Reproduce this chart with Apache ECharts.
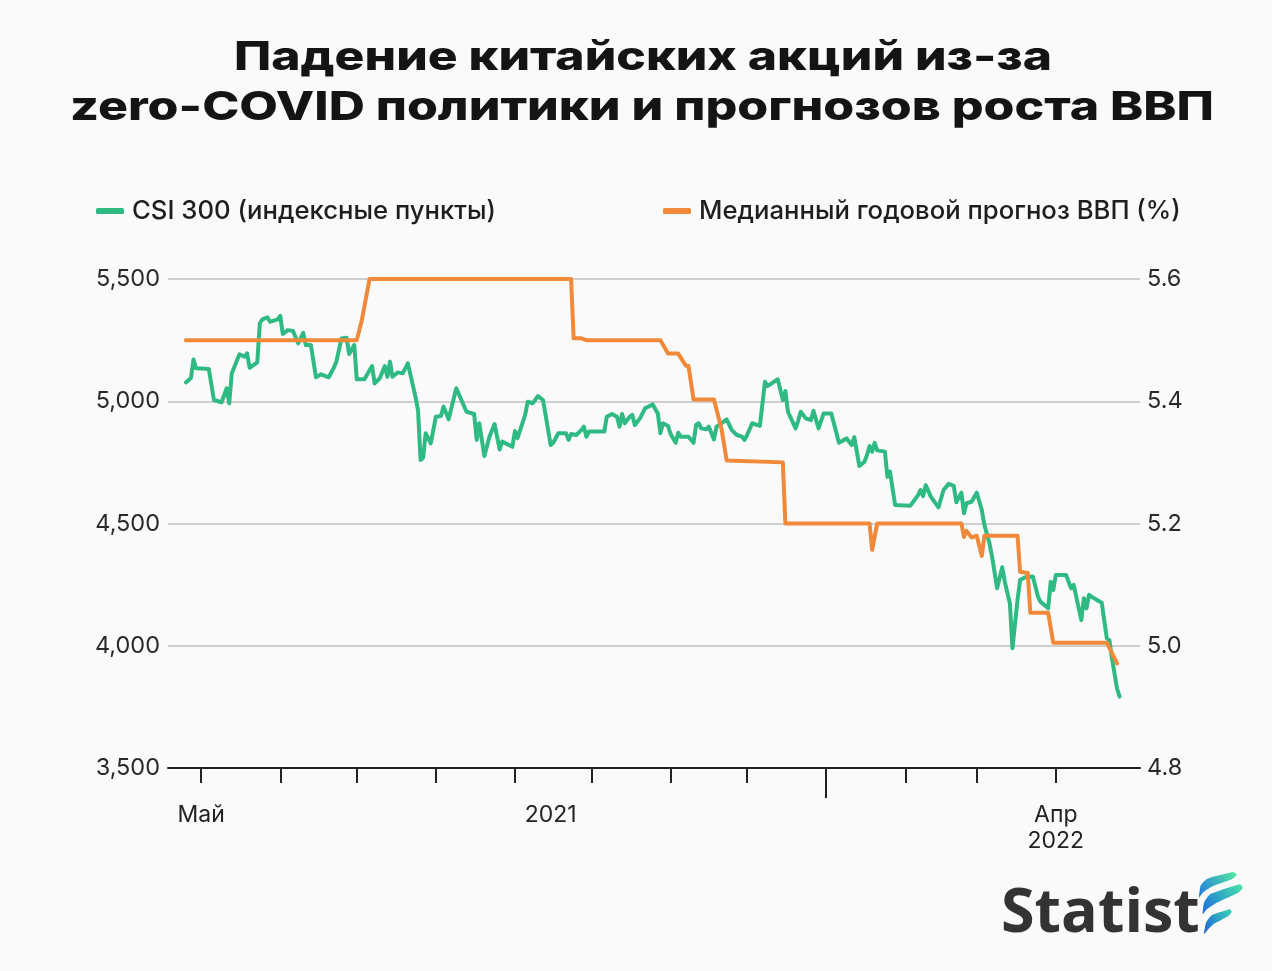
<!DOCTYPE html>
<html><head><meta charset="utf-8">
<script src="https://cdn.jsdelivr.net/npm/echarts@6/dist/echarts.min.js"></script>
<style>html,body{margin:0;padding:0;background:#fafafa}#c{width:1272px;height:971px}</style>
</head><body><div id="c"></div>
<script>
const titleText = 'Падение китайских акций из-за\nzero-COVID политики и прогнозов роста ВВП';
const seriesNames = ['CSI 300 (индексные пункты)', 'Медианный годовой прогноз ВВП (%)'];

const csiDates = ['2021-04-25','2021-04-27','2021-04-28','2021-04-29','2021-05-04','2021-05-06','2021-05-09','2021-05-11','2021-05-12','2021-05-13',
'2021-05-16','2021-05-18','2021-05-19','2021-05-20','2021-05-23','2021-05-24','2021-05-25','2021-05-27','2021-05-28','2021-05-31',
'2021-06-01','2021-06-02','2021-06-04','2021-06-06','2021-06-08','2021-06-09','2021-06-10','2021-06-11','2021-06-13','2021-06-15',
'2021-06-17','2021-06-20','2021-06-22','2021-06-23','2021-06-25','2021-06-27','2021-06-28','2021-06-30','2021-07-01','2021-07-04',
'2021-07-07','2021-07-08','2021-07-10','2021-07-12','2021-07-13','2021-07-14','2021-07-15','2021-07-17','2021-07-19','2021-07-21',
'2021-07-24','2021-07-25','2021-07-26','2021-07-27','2021-07-28','2021-07-30','2021-08-01','2021-08-03','2021-08-04','2021-08-06',
'2021-08-09','2021-08-13','2021-08-16','2021-08-17','2021-08-18','2021-08-20','2021-08-22','2021-08-24','2021-08-26','2021-08-27',
'2021-08-31','2021-09-01','2021-09-02','2021-09-05','2021-09-06','2021-09-08','2021-09-10','2021-09-12','2021-09-15','2021-09-16',
'2021-09-18','2021-09-21','2021-09-22','2021-09-23','2021-09-25','2021-09-27','2021-09-28','2021-09-29','2021-09-30','2021-10-06',
'2021-10-07','2021-10-09','2021-10-11','2021-10-12','2021-10-13','2021-10-14','2021-10-16','2021-10-17','2021-10-18','2021-10-20',
'2021-10-22','2021-10-25','2021-10-27','2021-10-28','2021-10-29','2021-10-31','2021-11-01','2021-11-03','2021-11-04','2021-11-05',
'2021-11-08','2021-11-10','2021-11-11','2021-11-12','2021-11-13','2021-11-15','2021-11-16','2021-11-18','2021-11-19','2021-11-21',
'2021-11-23','2021-11-25','2021-11-27','2021-11-29','2021-11-30','2021-12-01','2021-12-03','2021-12-06','2021-12-08','2021-12-09',
'2021-12-13','2021-12-15','2021-12-16','2021-12-17','2021-12-20','2021-12-21','2021-12-22','2021-12-24','2021-12-26','2021-12-27',
'2021-12-29','2021-12-31','2022-01-03','2022-01-06','2022-01-09','2022-01-11','2022-01-12','2022-01-14','2022-01-16','2022-01-17',
'2022-01-18','2022-01-19','2022-01-20','2022-01-21','2022-01-24','2022-01-25','2022-01-26','2022-01-28','2022-02-03','2022-02-06',
'2022-02-07','2022-02-08','2022-02-09','2022-02-11','2022-02-14','2022-02-16','2022-02-18','2022-02-20','2022-02-21','2022-02-23',
'2022-02-24','2022-02-25','2022-02-27','2022-03-01','2022-03-03','2022-03-04','2022-03-06','2022-03-07','2022-03-09','2022-03-11',
'2022-03-12','2022-03-14','2022-03-15','2022-03-17','2022-03-18','2022-03-20','2022-03-23','2022-03-25','2022-03-26','2022-03-29',
'2022-03-30','2022-03-31','2022-04-01','2022-04-05','2022-04-07','2022-04-08','2022-04-10','2022-04-11','2022-04-12','2022-04-13',
'2022-04-14','2022-04-16','2022-04-19','2022-04-21','2022-04-22','2022-04-23','2022-04-25','2022-04-26'];
const csiValues = [5077,5095,5171,5135,5132,5005,4996,5053,4992,5114,
5192,5182,5196,5137,5159,5319,5335,5343,5325,5335,
5349,5275,5291,5287,5237,5257,5280,5230,5230,5098,
5110,5098,5137,5162,5257,5260,5193,5230,5090,5090,
5144,5073,5094,5144,5100,5162,5100,5118,5114,5155,
5019,4964,4760,4769,4869,4828,4937,4940,4978,4926,
5053,4957,4948,4842,4910,4776,4855,4907,4803,4835,
4814,4878,4849,4944,4998,4992,5021,5005,4821,4830,
4869,4869,4842,4866,4862,4882,4896,4855,4876,4876,
4937,4948,4937,4896,4948,4910,4937,4944,4903,4930,
4971,4987,4950,4869,4910,4899,4866,4830,4871,4855,
4855,4830,4903,4910,4889,4885,4896,4844,4896,4910,
4926,4882,4862,4855,4842,4862,4910,4899,5080,5062,
5090,5005,5042,4957,4889,4920,4957,4930,4923,4961,
4889,4950,4950,4830,4848,4821,4853,4735,4753,4780,
4817,4794,4830,4799,4794,4691,4712,4576,4573,4616,
4637,4612,4657,4610,4566,4637,4662,4654,4587,4626,
4542,4583,4589,4626,4555,4494,4419,4364,4235,4321,
4262,4173,3990,4187,4269,4280,4283,4201,4180,4153,
4262,4228,4289,4289,4235,4249,4153,4105,4194,4153,
4208,4194,4176,4030,4023,3949,3825,3792];

const gdpDates = ['2021-04-25','2021-07-01','2021-07-03','2021-07-06','2021-09-23','2021-09-24','2021-09-27','2021-09-29','2021-10-28','2021-10-31',
'2021-11-04','2021-11-07','2021-11-08','2021-11-10','2021-11-18','2021-11-21','2021-11-23','2021-12-15','2021-12-16','2022-01-18',
'2022-01-19','2022-01-21','2022-02-23','2022-02-24','2022-02-25','2022-02-27','2022-03-01','2022-03-03','2022-03-04','2022-03-17',
'2022-03-18','2022-03-21','2022-03-22','2022-03-29','2022-03-31','2022-04-21','2022-04-25'];
const gdpValues = [5.5,5.5,5.533,5.6,5.6,5.503,5.503,5.5,5.5,5.478,
5.478,5.458,5.458,5.403,5.403,5.354,5.303,5.3,5.2,5.2,
5.157,5.2,5.2,5.178,5.188,5.177,5.18,5.147,5.18,5.18,
5.121,5.119,5.054,5.054,5.005,5.005,4.971];

const xMin = '2021-04-18', xMax = '2022-05-04';
const monthTicks = ['2021-05-01','2021-06-01','2021-07-01','2021-08-01','2021-09-01','2021-10-01','2021-11-01','2021-12-01','2022-02-01','2022-03-01','2022-04-01'];
const yearTicks = ['2022-01-01'];
const xLabelDates = ['2021-05-01','2021-09-15','2022-04-01'];
const xLabelTexts = ['Май','2021','Апр\n2022'];
const leftTicks = [3500, 5500, 500];   // min, max, interval
const rightTicks = [4.8, 5.6, 0.2];

const GREEN = '#2fba83', ORANGE = '#f0893a';
const FONT = 'Inter, "Noto Sans", sans-serif';
const TITLE_FONT = '800 40px Inter, sans-serif';

function ts(s){ const p = s.split('-').map(Number); return new Date(p[0], p[1]-1, p[2]).getTime(); }
function keyOf(v){ const d = new Date(Math.round(v)); return d.getFullYear()+'-'+String(d.getMonth()+1).padStart(2,'0')+'-'+String(d.getDate()).padStart(2,'0'); }
const labelMap = {}; xLabelDates.forEach((d,i)=>labelMap[d]=xLabelTexts[i]);

// title lines, each stretched to the reference line width
const titleLines = titleText.split('\n');
const titleLayout = [{cx: 643, y: 58, w: 818}, {cx: 642, y: 108, w: 1144}];
const mctx = document.createElement('canvas').getContext('2d');
mctx.font = TITLE_FONT;
const titleGraphics = titleLines.map((t,i)=>{
  const w = mctx.measureText(t).width;
  return {type:'text', x: titleLayout[i].cx, y: titleLayout[i].y, scaleX: titleLayout[i].w / w,
    style:{text: t, font: TITLE_FONT, fill:'#141414', align:'center', verticalAlign:'middle'}};
});

function grad(c1, c2){ return new echarts.graphic.LinearGradient(1,0,0,1,[{offset:0,color:c1},{offset:1,color:c2}]); }

const chart = echarts.init(document.getElementById('c'), null, {renderer:'canvas'});
chart.setOption({
  backgroundColor: '#fafafa',
  animation: false,
  legend: [
    {data:[seriesNames[0]], left: 91, top: 193, itemWidth: 28, itemHeight: 6, icon: 'roundRect',
      textStyle:{fontFamily: FONT, fontSize: 25.7, fontWeight: 500, color:'#1e1e1e', padding:[0,0,0,3]}},
    {data:[seriesNames[1]], left: 658, top: 193, itemWidth: 28, itemHeight: 6, icon: 'roundRect',
      textStyle:{fontFamily: FONT, fontSize: 25.7, fontWeight: 500, color:'#1e1e1e', padding:[0,0,0,3]}}
  ],
  grid: {left: 168, right: 132, top: 279, bottom: 203, containLabel: false},
  xAxis: [
    {type:'value', min: ts(xMin), max: ts(xMax), scale: true,
      axisLine:{show:true, lineStyle:{color:'#222', width:2}},
      axisTick:{show:true, customValues: monthTicks.map(ts), length: 15, lineStyle:{color:'#222', width:2}},
      axisLabel:{show:true, customValues: xLabelDates.map(ts), margin: 34, fontFamily: FONT, fontSize: 23, lineHeight: 26, color:'#222',
        formatter: v => labelMap[keyOf(v)] || ''},
      splitLine:{show:false}},
    {type:'value', min: ts(xMin), max: ts(xMax), scale: true, position:'bottom',
      axisLine:{show:false},
      axisTick:{show:true, customValues: yearTicks.map(ts), length: 30, lineStyle:{color:'#222', width:2}},
      axisLabel:{show:false}, splitLine:{show:false}}
  ],
  yAxis: [
    {type:'value', min: leftTicks[0], max: leftTicks[1], interval: leftTicks[2], position:'left',
      axisLine:{show:false}, axisTick:{show:false},
      axisLabel:{margin: 8, fontFamily: FONT, fontSize: 23.5, color:'#2a2a2a',
        formatter: v => v.toLocaleString('en-US')},
      splitLine:{show:true, lineStyle:{color:'#cfcfcf', width:2}}},
    {type:'value', min: rightTicks[0], max: rightTicks[1], interval: rightTicks[2], position:'right',
      axisLine:{show:false}, axisTick:{show:false},
      axisLabel:{margin: 7, fontFamily: FONT, fontSize: 23.5, color:'#2a2a2a', formatter: v => v.toFixed(1)},
      splitLine:{show:false}}
  ],
  series: [
    {name: seriesNames[0], type:'line', xAxisIndex:0, yAxisIndex:0, showSymbol:false, color: GREEN,
      lineStyle:{width:4, color: GREEN, cap:'round', join:'round'},
      data: csiDates.map((d,i)=>[ts(d), csiValues[i]])},
    {name: seriesNames[1], type:'line', xAxisIndex:0, yAxisIndex:1, showSymbol:false, color: ORANGE,
      lineStyle:{width:4, color: ORANGE, cap:'round', join:'round'},
      data: gdpDates.map((d,i)=>[ts(d), gdpValues[i]])}
  ],
  graphic: titleGraphics.concat([
    {type:'text', left: 1001, top: 884, style:{text:'Statist', font: '700 61px "Open Sans", sans-serif', fill:'#333333'}},
    {type:'group', x: 1190, y: 866, children: [
      {type:'polygon', shape:{smooth:0.15, points:[[9,31.7],[10.7,19.3],[17.3,12.7],[43.3,6],[46.7,9],[41.7,13.3],[21.7,20.7],[12.7,26.7]]},
        style:{fill: grad('#56eaa0','#1f78e0')}},
      {type:'polygon', shape:{smooth:0.15, points:[[12.7,48.3],[14,36.7],[20,28.3],[50,18.3],[52.7,21.7],[48.3,26.7],[26.7,36.7],[16.7,43.3]]},
        style:{fill: grad('#48e6a6','#1a6ae0')}},
      {type:'polygon', shape:{smooth:0.15, points:[[14,68.3],[16,56.7],[21.7,49.3],[40,43.3],[41.7,46],[38.3,50],[23.3,58.3],[16.7,65]]},
        style:{fill: grad('#3ad4b4','#1a60dc')}}
    ]}
  ])
});
</script></body></html>
